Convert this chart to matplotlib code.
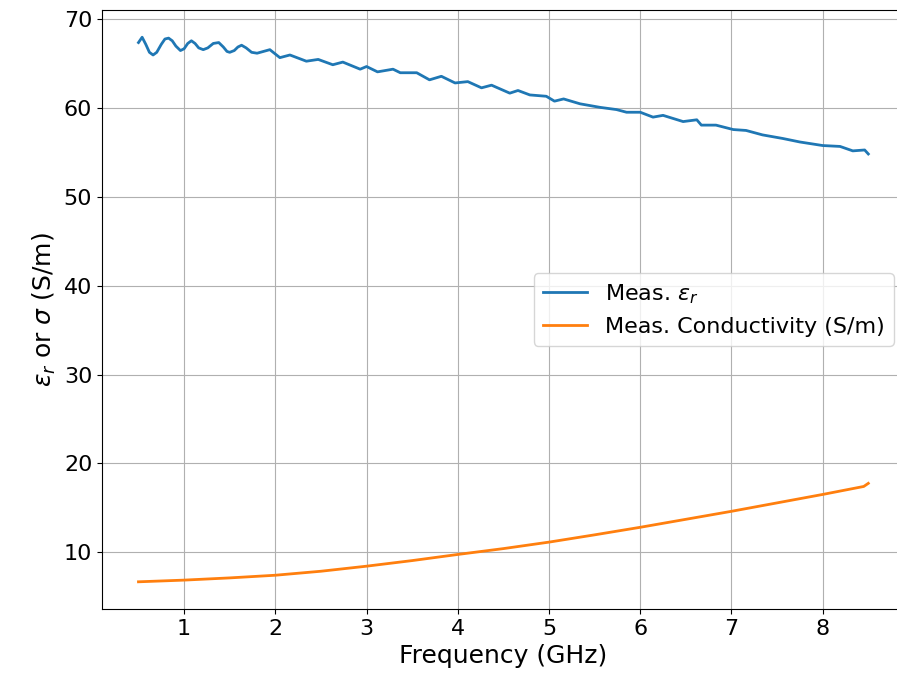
import matplotlib.pyplot as plt

freq_eps = [0.50, 0.54, 0.58, 0.62, 0.66, 0.70, 0.75, 0.79, 0.83, 0.87, 0.91, 0.96,
            1.00, 1.04, 1.08, 1.12, 1.16, 1.21, 1.26, 1.32, 1.38, 1.43, 1.47, 1.50,
            1.55, 1.59, 1.63, 1.68, 1.74, 1.80, 1.87, 1.94,
            2.05, 2.16, 2.34, 2.47, 2.63, 2.74, 2.93, 3.00, 3.12, 3.29, 3.37, 3.55,
            3.69, 3.82, 3.97, 4.11, 4.26, 4.37, 4.57, 4.66, 4.79, 4.97, 5.06, 5.16,
            5.34, 5.56, 5.74, 5.85, 6.00, 6.14, 6.25, 6.47, 6.62, 6.67, 6.83, 7.02,
            7.16, 7.34, 7.56, 7.75, 8.00, 8.19, 8.33, 8.46, 8.50]
eps_r = [67.4, 68.0, 67.2, 66.3, 66.0, 66.3, 67.2, 67.8, 67.9, 67.6, 67.0, 66.5,
         66.7, 67.3, 67.6, 67.3, 66.8, 66.6, 66.8, 67.3, 67.4, 66.9, 66.4, 66.3,
         66.5, 66.9, 67.1, 66.8, 66.3, 66.2, 66.4, 66.6,
         65.7, 66.0, 65.3, 65.5, 64.9, 65.2, 64.4, 64.7, 64.1, 64.4, 64.0, 64.0,
         63.2, 63.6, 62.85, 63.0, 62.3, 62.6, 61.7, 62.0, 61.5, 61.35, 60.8, 61.05,
         60.5, 60.1, 59.85, 59.55, 59.55, 59.0, 59.2, 58.5, 58.7, 58.1, 58.1, 57.6,
         57.5, 57.0, 56.6, 56.2, 55.8, 55.7, 55.2, 55.3, 54.85]

# measured conductivity (S/m)
freq_sig = [0.50, 1.0, 1.5, 2.0, 2.5, 3.0, 3.5, 4.0, 4.5, 5.0, 5.5, 6.0,
            6.5, 7.0, 7.5, 8.0, 8.25, 8.45, 8.50]
sigma = [6.66, 6.85, 7.1, 7.4, 7.85, 8.42, 9.05, 9.74, 10.4, 11.13, 11.95, 12.8,
         13.7, 14.6, 15.55, 16.5, 17.0, 17.4, 17.75]

fig = plt.figure(figsize=(8.97, 6.85), dpi=100)
ax = fig.add_axes([0.1137, 0.1109, 0.895, 0.8745])

ax.plot(freq_eps, eps_r, lw=2.0, label=r'Meas. $\varepsilon_r$')
ax.plot(freq_sig, sigma, lw=2.0, label='Meas. Conductivity (S/m)')

ax.grid(True)
ax.set_xlabel('Frequency (GHz)', fontsize=18)
ax.set_ylabel(r'$\varepsilon_r$ or $\sigma$ (S/m)', fontsize=18)
ax.tick_params(labelsize=16)
ax.legend(loc='center right', fontsize=16)

fig.savefig('out.png', dpi=100)
